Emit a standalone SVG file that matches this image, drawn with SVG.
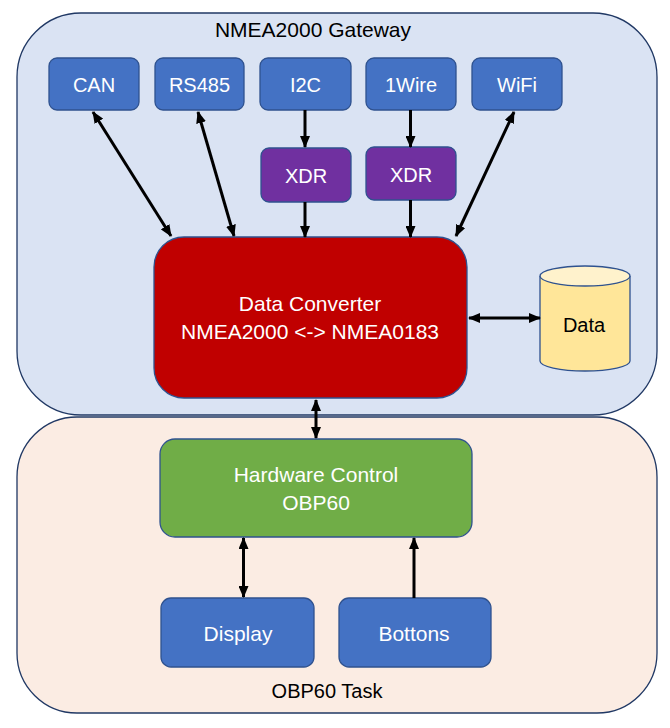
<svg xmlns="http://www.w3.org/2000/svg" width="670" height="728" viewBox="0 0 670 728">
<style>
text{font-family:"Liberation Sans",Arial,sans-serif;text-anchor:middle}
.w{fill:#fff}
.k{fill:#000}
.blue{fill:#4472C4;stroke:#2F528F;stroke-width:1.3}
.xdr{fill:#7030A0;stroke:#2F528F;stroke-width:1.3}
.conn line{stroke:#000;stroke-width:3}
</style>
<defs>
<marker id="ah" viewBox="0 0 12 10" refX="11" refY="5" markerWidth="12" markerHeight="10" markerUnits="userSpaceOnUse" orient="auto-start-reverse">
<path d="M0,0 L12,5 L0,10 z" fill="#000"/>
</marker>
</defs>
<rect width="670" height="728" fill="#fff"/>
<g id="obp60-task">
<rect x="17" y="417" width="640" height="296" rx="60" fill="#FBECE3" stroke="#203864" stroke-width="1.3"/>
<text x="327" y="698" font-size="20" class="k">OBP60 Task</text>
</g>
<g id="gateway">
<rect x="17" y="13" width="640" height="402" rx="64" fill="#DAE3F3" stroke="#203864" stroke-width="1.3"/>
<text x="313" y="37" font-size="21" class="k">NMEA2000 Gateway</text>
</g>
<g id="can"><rect class="blue" x="49" y="58" width="90" height="52" rx="8"/><text class="w" x="94" y="92" font-size="20">CAN</text></g>
<g id="rs485"><rect class="blue" x="155" y="58" width="89" height="52" rx="8"/><text class="w" x="199.5" y="92" font-size="20">RS485</text></g>
<g id="i2c"><rect class="blue" x="260" y="58" width="91" height="52" rx="8"/><text class="w" x="305.5" y="92" font-size="20">I2C</text></g>
<g id="onewire"><rect class="blue" x="366" y="58" width="90" height="52" rx="8"/><text class="w" x="411" y="92" font-size="20">1Wire</text></g>
<g id="wifi"><rect class="blue" x="472" y="58" width="90" height="52" rx="8"/><text class="w" x="517" y="92" font-size="20">WiFi</text></g>
<g id="xdr1"><rect class="xdr" x="261" y="148" width="90" height="54" rx="8"/><text class="w" x="306" y="183" font-size="20">XDR</text></g>
<g id="xdr2"><rect class="xdr" x="366" y="147" width="90" height="53" rx="8"/><text class="w" x="411" y="182" font-size="20">XDR</text></g>
<g id="data-converter">
<rect x="154" y="237" width="313" height="161" rx="30" fill="#C00000" stroke="#2F528F" stroke-width="1.3"/>
<text class="w" x="310" y="311" font-size="21">Data Converter</text>
<text class="w" x="310" y="339" font-size="21">NMEA2000 &lt;-&gt; NMEA0183</text>
</g>
<g id="data">
<path d="M540,276 L540,361 A45,10 0 0 0 630,361 L630,276" fill="#FFE699" stroke="#2F528F" stroke-width="1.3"/>
<ellipse cx="585" cy="276" rx="45" ry="10" fill="#FFF2CC" stroke="#2F528F" stroke-width="1.3"/>
<text class="k" x="584" y="332" font-size="20">Data</text>
</g>
<g id="hardware-control">
<rect x="160" y="439" width="312" height="98" rx="15" fill="#70AD47" stroke="#2F528F" stroke-width="1.3"/>
<text class="w" x="316" y="482" font-size="21">Hardware Control</text>
<text class="w" x="316" y="510" font-size="21">OBP60</text>
</g>
<g id="display"><rect class="blue" x="161" y="598" width="153" height="69" rx="10"/><text class="w" x="238" y="641" font-size="21">Display</text></g>
<g id="bottons"><rect class="blue" x="339" y="598" width="152" height="69" rx="10"/><text class="w" x="414" y="641" font-size="21">Bottons</text></g>
<g id="connectors" class="conn">
<line x1="93" y1="112" x2="171" y2="236" marker-start="url(#ah)" marker-end="url(#ah)"/>
<line x1="198" y1="112" x2="234" y2="236" marker-start="url(#ah)" marker-end="url(#ah)"/>
<line x1="305" y1="110" x2="305" y2="147" marker-end="url(#ah)"/>
<line x1="305" y1="202" x2="305" y2="237" marker-end="url(#ah)"/>
<line x1="410.5" y1="110" x2="410.5" y2="147" marker-end="url(#ah)"/>
<line x1="410.5" y1="200" x2="410.5" y2="237" marker-end="url(#ah)"/>
<line x1="514" y1="112" x2="456" y2="236" marker-start="url(#ah)" marker-end="url(#ah)"/>
<line x1="469" y1="318" x2="540" y2="318" marker-start="url(#ah)" marker-end="url(#ah)"/>
<line x1="316" y1="400" x2="316" y2="438" marker-start="url(#ah)" marker-end="url(#ah)"/>
<line x1="243.5" y1="538" x2="243.5" y2="597" marker-start="url(#ah)" marker-end="url(#ah)"/>
<line x1="414" y1="598" x2="414" y2="538" marker-end="url(#ah)"/>
</g>
</svg>
